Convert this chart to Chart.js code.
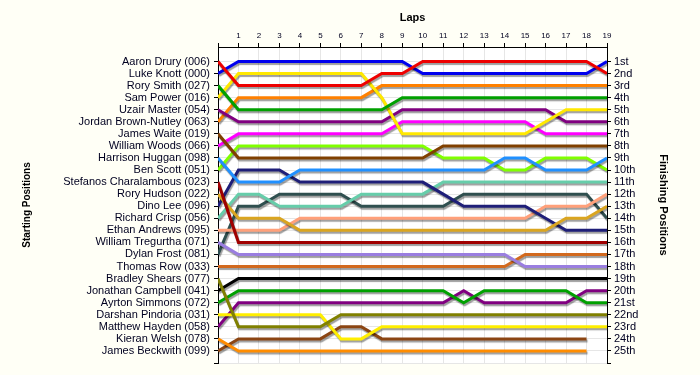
<!DOCTYPE html>
<html>
<head>
<meta charset="utf-8">
<script src="https://cdn.jsdelivr.net/npm/chart.js@4"></script>
<style>
  html, body { margin: 0; padding: 0; background: #fffff6; }
  #wrap { width: 700px; height: 375px; }
</style>
</head>
<body>
<div id="wrap"><canvas id="lapChart" width="700" height="375"></canvas></div>
<script>
// laps 0 (grid) .. 19
const laps = [0,1,2,3,4,5,6,7,8,9,10,11,12,13,14,15,16,17,18,19];

const drivers = [
  "Aaron Drury (006)", "Luke Knott (000)", "Rory Smith (027)", "Sam Power (016)",
  "Uzair Master (054)", "Jordan Brown-Nutley (063)", "James Waite (019)", "William Woods (066)",
  "Harrison Huggan (098)", "Ben Scott (051)", "Stefanos Charalambous (023)", "Rory Hudson (022)",
  "Dino Lee (096)", "Richard Crisp (056)", "Ethan Andrews (095)", "William Tregurtha (071)",
  "Dylan Frost (081)", "Thomas Row (033)", "Bradley Shears (077)", "Jonathan Campbell (041)",
  "Ayrton Simmons (072)", "Darshan Pindoria (031)", "Matthew Hayden (058)", "Kieran Welsh (078)",
  "James Beckwith (099)"
];

const finishLabels = [
  "1st","2nd","3rd","4th","5th","6th","7th","8th","9th","10th","11th","12th","13th",
  "14th","15th","16th","17th","18th","19th","20th","21st","22nd","23rd","24th","25th"
];

// position of each driver at the end of every lap
const aaronDrury      = [1,3,3,3,3,3,3,3,2,2,1,1,1,1,1,1,1,1,1,2];
const lukeKnott       = [2,1,1,1,1,1,1,1,1,1,2,2,2,2,2,2,2,2,2,1];
const rorySmith       = [3,5,5,5,5,5,5,5,5,4,4,4,4,4,4,4,4,4,4,4];
const samPower        = [4,2,2,2,2,2,2,2,4,7,7,7,7,7,7,7,6,5,5,5];
const uzairMaster     = [5,6,6,6,6,6,6,6,6,5,5,5,5,5,5,5,5,6,6,6];
const jordanBN        = [6,4,4,4,4,4,4,4,3,3,3,3,3,3,3,3,3,3,3,3];
const jamesWaite      = [7,9,9,9,9,9,9,9,9,9,9,8,8,8,8,8,8,8,8,8];
const williamWoods    = [8,7,7,7,7,7,7,7,7,6,6,6,6,6,6,6,7,7,7,7];
const harrisonHuggan  = [9,11,11,11,10,10,10,10,10,10,10,10,10,10,9,9,10,10,10,9];
const benScott        = [10,8,8,8,8,8,8,8,8,8,8,9,9,9,10,10,9,9,9,10];
const stefanosC       = [11,16,16,16,16,16,16,16,16,16,16,16,16,16,16,16,16,16,16,16];
const roryHudson      = [12,14,14,14,15,15,15,15,15,15,15,15,15,15,15,15,15,14,14,13];
const dinoLee         = [13,10,10,10,11,11,11,11,11,11,11,12,13,13,13,13,14,15,15,15];
const richardCrisp    = [14,12,12,13,13,13,13,12,12,12,12,11,11,11,11,11,11,11,11,11];
const ethanAndrews    = [15,15,15,15,14,14,14,14,14,14,14,14,14,14,14,14,13,13,13,12];
const williamTregurtha= [16,17,17,17,17,17,17,17,17,17,17,17,17,17,17,18,18,18,18,18];
const dylanFrost      = [17,13,13,12,12,12,12,13,13,13,13,13,12,12,12,12,12,12,12,14];
const thomasRow       = [18,18,18,18,18,18,18,18,18,18,18,18,18,18,18,17,17,17,17,17];
const bradleyShears   = [19,23,23,23,23,23,22,22,22,22,22,22,22,22,22,22,22,22,22,22];
const jonathanCampbell= [20,19,19,19,19,19,19,19,19,19,19,19,19,19,19,19,19,19,19,19];
const ayrtonSimmons   = [21,20,20,20,20,20,20,20,20,20,20,20,21,20,20,20,20,20,21,21];
const darshanPindoria = [22,22,22,22,22,22,24,24,23,23,23,23,23,23,23,23,23,23,23,23];
const matthewHayden   = [23,21,21,21,21,21,21,21,21,21,21,21,20,21,21,21,21,21,20,20];
const kieranWelsh     = [24,25,25,25,25,25,25,25,25,25,25,25,25,25,25,25,25,25,25,null];
const jamesBeckwith   = [25,24,24,24,24,24,23,23,24,24,24,24,24,24,24,24,24,24,24,null];

const series = [
  aaronDrury, lukeKnott, rorySmith, samPower, uzairMaster, jordanBN, jamesWaite,
  williamWoods, harrisonHuggan, benScott, stefanosC, roryHudson, dinoLee, richardCrisp,
  ethanAndrews, williamTregurtha, dylanFrost, thomasRow, bradleyShears, jonathanCampbell,
  ayrtonSimmons, darshanPindoria, matthewHayden, kieranWelsh, jamesBeckwith
];

const lineColors = [
  "#ee0000", "#0000ee", "#00a000", "#ffe800", "#800080", "#ff8000", "#804000",
  "#ff00ff", "#2090ff", "#80ff00", "#a00000", "#daa520", "#1e1e78", "#66cdaa",
  "#ffa07a", "#9a7ee0", "#2f4f4f", "#d2691e", "#808000", "#000000", "#00a000",
  "#ffee00", "#800080", "#ff8c00", "#8b4513"
];

// fond crème + zone de tracé blanche
const bgPlugin = {
  id: 'bg',
  beforeDraw(chart) {
    const { ctx, chartArea: a } = chart;
    ctx.save();
    ctx.fillStyle = '#fffff6';
    ctx.fillRect(0, 0, chart.width, chart.height);
    ctx.fillStyle = '#ffffff';
    ctx.fillRect(a.left, a.top, a.right - a.left, a.bottom - a.top);
    ctx.restore();
  }
};

// ombre grise sous chaque ligne
const shadowPlugin = {
  id: 'shadow',
  beforeDatasetsDraw(chart) {
    const c = chart.ctx;
    c.save();
    c.shadowColor = 'rgba(0,0,0,0.38)';
    c.shadowOffsetX = 1;
    c.shadowOffsetY = 2;
    c.shadowBlur = 1;
  },
  afterDatasetsDraw(chart) {
    chart.ctx.restore();
  }
};

const datasets = series.map((s, i) => ({
  label: drivers[i],
  data: laps.map((lap, j) => ({ x: lap, y: s[j] })),
  borderColor: lineColors[i],
  backgroundColor: lineColors[i],
  borderWidth: 3,
  pointRadius: 0,
  tension: 0,
  spanGaps: false,
  yAxisID: 'y'
}));

const posTicks = scale => {
  scale.ticks = [];
  for (let p = 1; p <= 26; p++) scale.ticks.push({ value: p });
};

const labelFont = { family: 'Arial, "Liberation Sans", sans-serif', size: 11 };
const titleFont = { family: 'Arial, "Liberation Sans", sans-serif', weight: 'bold' };

new Chart(document.getElementById('lapChart'), {
  type: 'line',
  data: { datasets },
  plugins: [bgPlugin, shadowPlugin],
  options: {
    responsive: false,
    animation: false,
    layout: { padding: { bottom: 12 } },
    plugins: { legend: { display: false }, tooltip: { enabled: false } },
    scales: {
      x: {
        type: 'linear',
        position: 'top',
        min: 0,
        max: 19,
        afterFit: scale => { scale.height = 47; },
        ticks: {
          stepSize: 1,
          autoSkip: false,
          maxRotation: 0,
          padding: 2,
          color: '#000020',
          font: { family: 'Arial, "Liberation Sans", sans-serif', size: 8 },
          callback: v => (v === 0 ? '' : v)
        },
        grid: { color: '#e6e6e6', tickColor: '#000000', tickLength: 4 },
        border: { color: '#000000', width: 1 },
        title: {
          display: true, text: 'Laps', color: '#000000',
          font: Object.assign({ size: 11 }, titleFont),
          padding: { top: 11, bottom: 0 }
        }
      },
      y: {
        type: 'linear',
        position: 'left',
        reverse: true,
        min: -0.2,
        max: 26,
        afterFit: scale => { scale.width = 218; },
        afterBuildTicks: posTicks,
        ticks: {
          autoSkip: false,
          padding: 4,
          color: '#000020',
          font: labelFont,
          callback: v => drivers[v - 1] || ''
        },
        grid: { color: '#e6e6e6', tickColor: '#000000', tickLength: 4 },
        border: { color: '#000000', width: 1 },
        title: {
          display: true, text: 'Starting Positions', color: '#000000',
          font: Object.assign({ size: 10 }, titleFont),
          padding: { top: 21, bottom: 0 }
        }
      },
      y2: {
        type: 'linear',
        position: 'right',
        reverse: true,
        min: -0.2,
        max: 26,
        afterFit: scale => { scale.width = 93; },
        afterBuildTicks: posTicks,
        ticks: {
          autoSkip: false,
          padding: 3,
          color: '#000020',
          font: labelFont,
          callback: v => finishLabels[v - 1] || ''
        },
        grid: { drawOnChartArea: false, tickColor: '#000000', tickLength: 4 },
        border: { color: '#000000', width: 1 },
        title: {
          display: true, text: 'Finishing Positions', color: '#000000',
          font: Object.assign({ size: 11 }, titleFont),
          padding: { top: 30, bottom: 0 }
        }
      }
    }
  }
});
</script>
</body>
</html>
